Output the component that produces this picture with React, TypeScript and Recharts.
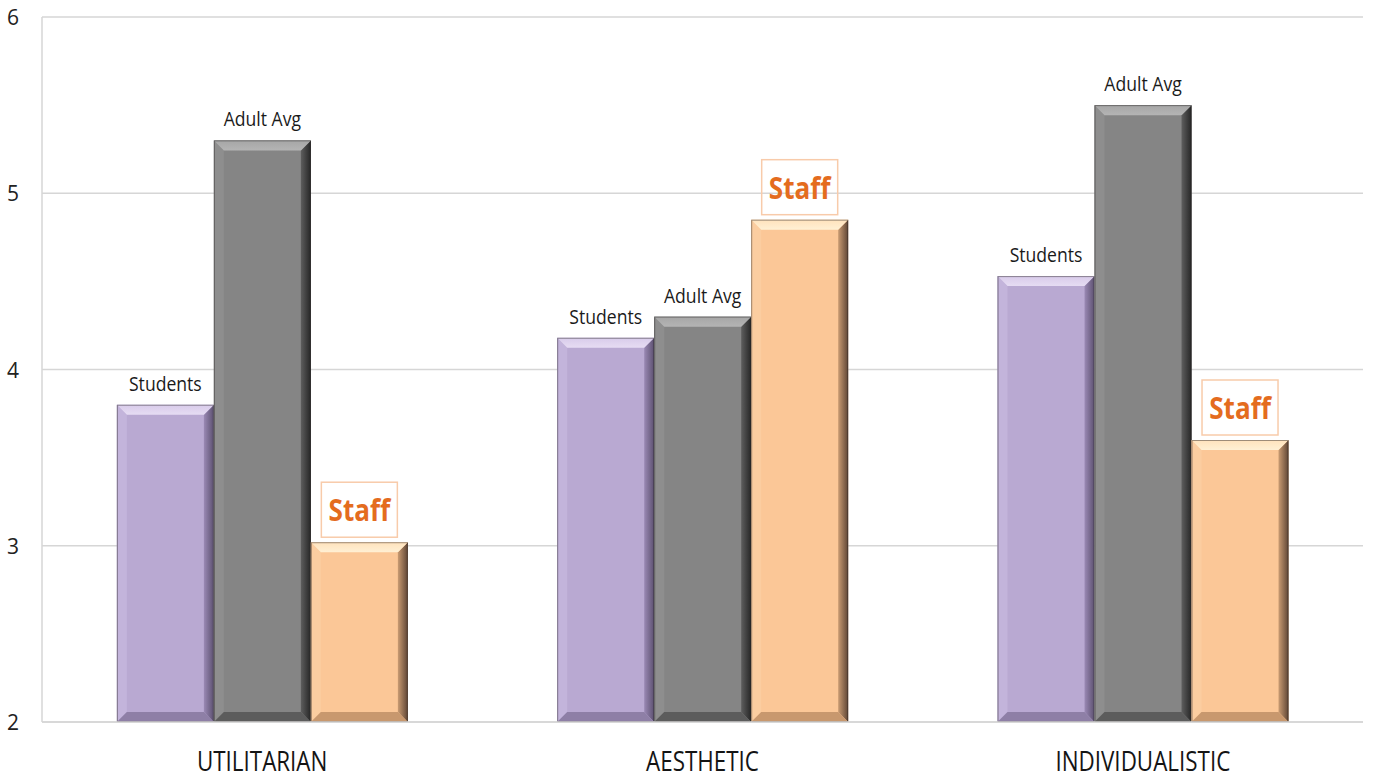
import React from 'react';
import { BarChart, Bar, XAxis, YAxis, CartesianGrid, LabelList } from 'recharts';

const categories = ['UTILITARIAN', 'AESTHETIC', 'INDIVIDUALISTIC'];
const students = [3.8, 4.18, 4.53];
const adultAvg = [5.3, 4.3, 5.5];
const staff = [3.02, 4.85, 3.6];
const yTicks = [2, 3, 4, 5, 6];

const data = categories.map((name, i) => ({
  name,
  students: students[i],
  adultAvg: adultAvg[i],
  staff: staff[i],
}));

const FONT = '"Open Sans", "Noto Sans", sans-serif';

// bevel colours per series
const tones = {
  students: { base: '#B9A9D2', top: '#D8CBEA', topIn: '#E6DCF3', left: '#C3B4DB', right: '#9A89B4', edge: '#5C5070', bottom: '#8E7FA6' },
  adult: { base: '#858585', top: '#A6A6A6', topIn: '#B4B4B4', left: '#8E8E8E', right: '#5E5E5E', edge: '#262626', bottom: '#5C5C5C' },
  staff: { base: '#FBC797', top: '#FFE2BC', topIn: '#FFF0D4', left: '#FBCDA0', right: '#C99B72', edge: '#5E4535', bottom: '#C8986E' },
};

type Tone = typeof tones.students;

function BevelBar(props: any) {
  const { x, y, width: w, height: h, tone, id, index } = props as { x: number; y: number; width: number; height: number; tone: Tone; id: string; index: number };
  if (!w || !h) return null;
  const b = 10;
  const gid = `${id}-${index}`;
  return (
    <g>
      <defs>
        <linearGradient id={`top-${gid}`} x1="0" y1="0" x2="0" y2="1">
          <stop offset="0%" stopColor={tone.top} />
          <stop offset="100%" stopColor={tone.topIn} />
        </linearGradient>
        <linearGradient id={`right-${gid}`} x1="0" y1="0" x2="1" y2="0">
          <stop offset="0%" stopColor={tone.right} />
          <stop offset="100%" stopColor={tone.edge} />
        </linearGradient>
      </defs>
      <rect x={x} y={y} width={w} height={h} fill={tone.base} />
      <polygon points={`${x},${y} ${x + b},${y + b} ${x + b},${y + h - b} ${x},${y + h}`} fill={tone.left} />
      <polygon points={`${x + w},${y} ${x + w},${y + h} ${x + w - b},${y + h - b} ${x + w - b},${y + b}`} fill={`url(#right-${gid})`} />
      <polygon points={`${x},${y + h} ${x + w},${y + h} ${x + w - b},${y + h - b} ${x + b},${y + h - b}`} fill={tone.bottom} />
      <polygon points={`${x},${y} ${x + w},${y} ${x + w - b},${y + b} ${x + b},${y + b}`} fill={`url(#top-${gid})`} />
      <rect x={x + 0.5} y={y + 0.5} width={w - 1} height={h - 1} fill="none" stroke="rgba(40,35,35,0.45)" strokeWidth={1} />
    </g>
  );
}

function plainLabel(text: string) {
  return (p: any) => {
    const cx = p.x + p.width / 2;
    return (
      <g transform={`translate(${cx},${p.y - 14}) scale(0.88,1)`}>
        <text x={0} y={0} textAnchor="middle" fontFamily={FONT} fontSize={20} fill="#1A1A1A">
          {text}
        </text>
      </g>
    );
  };
}

function staffLabel(p: any) {
  const cx = p.x + p.width / 2;
  return (
    <g>
      <rect x={cx - 38} y={p.y - 60} width={76} height={55} fill="none" stroke="#F8CBAA" strokeWidth={1.5} />
      <g transform={`translate(${cx},${p.y - 21}) scale(0.87,1)`}>
        <text x={0} y={0} textAnchor="middle" fontFamily={FONT} fontWeight={700} fontSize={30} fill="#E46C1E">
          Staff
        </text>
      </g>
    </g>
  );
}

function CategoryTick(p: any) {
  return (
    <g transform={`translate(${p.x},${p.y + 41}) scale(0.8,1)`}>
      <text x={0} y={0} textAnchor="middle" fontFamily={FONT} fontSize={28} fill="#141414">
        {p.payload.value}
      </text>
    </g>
  );
}

function ValueTick(p: any) {
  return (
    <text x={7} y={p.y + 8} textAnchor="start" fontFamily={FONT} fontSize={21} fill="#222">
      {p.payload.value}
    </text>
  );
}

export default function App() {
  return (
    <div style={{ position: 'absolute', left: 0, top: 0, background: '#fff' }}>
      <BarChart
        width={1373}
        height={781}
        data={data}
        margin={{ top: 17, right: 10, bottom: 0, left: 0 }}
        barCategoryGap="17%"
        barGap={0}
      >
        <CartesianGrid vertical={false} stroke="#D6D6D6" strokeWidth={1.5} />
        <XAxis
          dataKey="name"
          height={59}
          axisLine={{ stroke: '#D6D6D6', strokeWidth: 1.5 }}
          tickLine={false}
          tick={<CategoryTick />}
          interval={0}
        />
        <YAxis
          width={42}
          domain={[2, 6]}
          ticks={yTicks}
          allowDataOverflow
          axisLine={{ stroke: '#D6D6D6', strokeWidth: 1.5 }}
          tickLine={false}
          tick={<ValueTick />}
        />
        <Bar dataKey="students" isAnimationActive={false} shape={(p: any) => <BevelBar {...p} tone={tones.students} id="st" />}>
          <LabelList dataKey="students" content={plainLabel('Students')} />
        </Bar>
        <Bar dataKey="adultAvg" isAnimationActive={false} shape={(p: any) => <BevelBar {...p} tone={tones.adult} id="ad" />}>
          <LabelList dataKey="adultAvg" content={plainLabel('Adult Avg')} />
        </Bar>
        <Bar dataKey="staff" isAnimationActive={false} shape={(p: any) => <BevelBar {...p} tone={tones.staff} id="sf" />}>
          <LabelList dataKey="staff" content={staffLabel} />
        </Bar>
      </BarChart>
    </div>
  );
}
